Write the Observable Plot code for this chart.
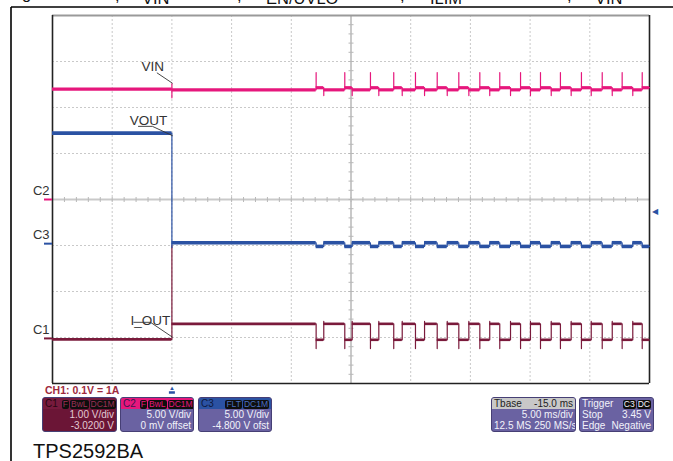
<!DOCTYPE html>
<html><head><meta charset="utf-8">
<script src="https://cdn.jsdelivr.net/npm/d3@7"></script>
<script src="https://cdn.jsdelivr.net/npm/@observablehq/plot@0.6"></script>
<style>
body{margin:0;background:#fff;}
#wrap{position:relative;width:673px;height:461px;overflow:hidden;font-family:"Liberation Sans",Arial,sans-serif;}
#chart{position:absolute;left:0;top:0;}
#chart svg{display:block;}
.deco{position:absolute;left:0;top:0;pointer-events:none;}
.box{position:absolute;top:397px;height:35px;border-radius:3px;border:1px solid #463f75;box-sizing:border-box;background:#6a62a2;color:#f2f2fa;font-size:10px;line-height:11px;overflow:hidden;}
.row{display:flex;justify-content:space-between;align-items:center;height:11px;padding:0 2px;white-space:nowrap;gap:3px;}
.badge{display:inline-block;background:#0e0e0e;border-radius:2px;padding:0 1px;margin-left:1px;font-size:8.5px;line-height:9px;height:9px;font-weight:normal;}
</style>
</head><body>
<div id="wrap">
  <div id="chart"></div>
  <svg class="deco" width="673" height="461">
    <line x1="11" y1="7" x2="673" y2="7" stroke="#000" stroke-width="1.6"/>
    <line x1="11" y1="7" x2="11" y2="461" stroke="#000" stroke-width="1.6"/>
    <g font-family="Liberation Sans, Arial, sans-serif" font-size="16.5" fill="#111">
      <text x="22" y="-1">g</text>
      <text x="115" y="1">,</text>
      <text x="142" y="3.5">VIN</text>
      <text x="237" y="1">,</text>
      <text x="266" y="3.5">EN/UVLO</text>
      <text x="400" y="1">,</text>
      <text x="430" y="3.5">ILIM</text>
      <text x="567" y="1">,</text>
      <text x="595" y="3.5">VIN</text>
    </g>
    <text x="45" y="393.5" font-family="Liberation Sans, Arial, sans-serif" font-size="10.5" font-weight="bold" fill="#9e2a3c">CH1: 0.1V = 1A</text>
    <text x="33" y="458" font-family="Liberation Sans, Arial, sans-serif" font-size="20" fill="#111">TPS2592BA</text>
  </svg>
  <div id="boxes"></div>
</div>
<script>
// ---- scope settings / axes ----
const timeDivs = [-10,-5,0,5,10,15,20,25,30,35,40];     // ms, 5 ms/div, trigger at 0
const voltDivs = [-4,-3,-2,-1,0,1,2,3,4];              // screen divisions
const channelNames  = ["C1","C2","C3"];
const channelColors = ["#7a1a3b","#e6177c","#2b52a3"];
const channelScales = [1, 5, 5];          // V/div
const channelOffsets = [-3.02, 0, -4.8];  // V
const channels = channelNames.map((name,i)=>({name, color:channelColors[i], scale:channelScales[i], offset:channelOffsets[i]}));
const [C1, C2, C3] = channels;

// ---- fault/retry cycle edges of I_OUT (ms after trigger) ----
const falls = [12.08,14.48,16.63,18.58,20.40,22.22,24.03,25.79,27.46,29.20,30.87,32.54,34.30,36.04,37.71,39.39];
const rises = [12.72,15.10,17.33,19.29,21.16,23.06,24.87,26.62,28.36,30.03,31.77,33.44,35.12,36.88,38.60];

// ---- trace levels ----
const vinLevels  = {before:11.99, step:[11.05,12.57], on:11.92, off:12.15, fall:[13.8], rise:[11.3]};   // V
const voutLevels = {before:12.02, step:[-0.41],       on:0.10,  off:-0.30, fall:[],     rise:[]};       // V
const ioutLevels = {before:-0.2,  step:[20.2,3.6],    on:3.17,  off:-0.3,  fall:[-2.2], rise:[3.7]};    // A
const ampsPerVolt = 10;   // CH1: 0.1V = 1A
const triggerTime = [0];
const triggerLevel = [3.45];

const annotations = [
  {label:"VIN",   t:-1.6,  v:2.88},
  {label:"VOUT",  t:-1.95, v:1.72},
  {label:"I_OUT", t:-1.8,  v:-2.63}
];
const leaders = [
  {id:"VIN",   t:-1.23, v:2.75}, {id:"VIN",   t:0.03, v:2.53},
  {id:"VOUT",  t:-2.80, v:1.59}, {id:"VOUT",  t:-1.63, v:1.59}, {id:"VOUT",  t:0.03, v:1.39},
  {id:"I_OUT", t:-3.19, v:-2.67},{id:"I_OUT", t:-1.79, v:-2.67},{id:"I_OUT", t:0.03, v:-2.99}
];

const boxes = [
  {left:42,  width:75, bg:"#6b1536", hdrBg:"#761a3d", hdrColor:"#2a0612", title:"C1", badges:["F","BwL","DC1M"], badgeColor:"#9a3055", text:"#e2c9d3",
   rows:[["", C1.scale.toFixed(2)+" V/div"],["","-3.0200 V"]]},
  {left:120, width:74, bg:"#6a62a2", hdrBg:"#e6177c", hdrColor:"#3b1550", title:"C2", badges:["F","BwL","DC1M"], badgeColor:"#e6177c", text:"#f2f2fa",
   rows:[["", C2.scale.toFixed(2)+" V/div"],["","0 mV offset"]]},
  {left:198, width:74, bg:"#6a62a2", hdrBg:"#2b52a3", hdrColor:"#0e1a40", title:"C3", badges:["FLT","DC1M"], badgeColor:"#4a70c0", text:"#f2f2fa",
   rows:[["", C3.scale.toFixed(2)+" V/div"],["","-4.800 V ofst"]]},
  {left:491, width:85, bg:"#6a62a2", hdrBg:"#c8c8c8", hdrColor:"#222", title:"Tbase", right:"-15.0 ms", badges:[], text:"#f2f2fa",
   rows:[["","5.00 ms/div"],["12.5 MS","250 MS/s"]]},
  {left:579, width:75, bg:"#6a62a2", hdrBg:"#6a62a2", hdrColor:"#f2f2fa", title:"Trigger", badges:["C3","DC"], badgeColor:"#f2f2fa", text:"#f2f2fa",
   rows:[["Stop", triggerLevel[0].toFixed(2)+" V"],["Edge","Negative"]]}
];

// ---- build traces ----
function build(lv, ch, name, k=1) {
  const pts = [];
  const add = (t, val) => pts.push({t, v:(val*k + ch.offset)/ch.scale, name});
  add(-10, lv.before); add(0, lv.before);
  lv.step.forEach(x => add(0, x)); add(0, lv.on);
  falls.forEach((tf,i) => {
    add(tf, lv.on); lv.fall.forEach(x => add(tf, x)); add(tf, lv.off);
    if (i < rises.length) { const tr = rises[i]; add(tr, lv.off); lv.rise.forEach(x => add(tr, x)); add(tr, lv.on); }
  });
  add(40, falls.length > rises.length ? lv.off : lv.on);
  return pts;
}
function plateaus(pts) {
  const s = [];
  for (let i=0;i<pts.length-1;i++){ const a=pts[i], b=pts[i+1]; if (a.v===b.v && b.t>a.t) s.push({t1:a.t,t2:b.t,v:a.v}); }
  return s;
}
const vin  = build(vinLevels,  C2, "VIN");
const vout = build(voutLevels, C3, "VOUT");
const iout = build(ioutLevels, C1, "I_OUT", 1/ampsPerVolt);

const pxPerMs = 597/50, pxPerDiv = 368/8;
const minorT = d3.range(-10, 40.001, 1);
const minorV = d3.range(-4, 4.001, 0.2);
const grid = "#c9c9c9";

function traceMarks(pts, color, thin, thick) {
  return [
    Plot.line(pts, {x:"t", y:"v", stroke:color, strokeWidth:thin}),
    Plot.ruleY(plateaus(pts), {y:"v", x1:"t1", x2:"t2", stroke:color, strokeWidth:thick})
  ];
}

const chart = Plot.plot({
  width:673, height:461,
  marginLeft:52, marginRight:24, marginTop:15, marginBottom:78,
  x:{domain:[-10,40], axis:null},
  y:{domain:[-4,4], axis:null},
  color:{type:"identity"},
  style:{background:"transparent", overflow:"visible", fontFamily:"Liberation Sans, Arial, sans-serif"},
  marks:[
    Plot.ruleX(timeDivs.slice(1,-1), {stroke:grid, strokeWidth:1, strokeDasharray:"2,2"}),
    Plot.ruleY(voltDivs.slice(1,-1), {stroke:grid, strokeWidth:1, strokeDasharray:"2,2"}),
    Plot.ruleX([15], {stroke:grid, strokeWidth:2}),
    Plot.ruleY([0], {stroke:grid, strokeWidth:2}),
    Plot.link(minorT, {x1:d=>d, x2:d=>d, y1:-2.5/pxPerDiv, y2:2.5/pxPerDiv, stroke:"#b8b8b8", strokeWidth:1}),
    Plot.link(minorV, {y1:d=>d, y2:d=>d, x1:15-2.5/pxPerMs, x2:15+2.5/pxPerMs, stroke:"#b8b8b8", strokeWidth:1}),
    Plot.ruleY([4], {stroke:"#9a9a9a", strokeWidth:2}),
    Plot.ruleY([-4], {stroke:"#222", strokeWidth:1.5}),
    Plot.ruleX([-10, 40], {stroke:"#222", strokeWidth:1.6}),
    ...traceMarks(iout, C1.color, 1.2, 2.6),
    ...traceMarks(vout, C3.color, 1.2, 3.6),
    ...traceMarks(vin,  C2.color, 1.2, 3.2),
    Plot.ruleY(channels, {y:d=>d.offset/d.scale, x1:-10-8/pxPerMs, x2:-10, stroke:"color", strokeWidth:2}),
    Plot.text(channels, {x:-10, y:d=>d.offset/d.scale, text:"name", dx:-3, dy:-8.5, textAnchor:"end", fontSize:13, fill:"#333"}),
    Plot.text(triggerLevel, {x:40, y:d=>(d + C3.offset)/C3.scale, text:()=>"◀", dx:5, fontSize:8, fill:C3.color}),
    Plot.text(triggerTime, {x:d=>d, y:-4, text:()=>"▲", dy:4.5, fontSize:6, fill:C3.color}),
    Plot.link(triggerTime, {x1:d=>d-3/pxPerMs, x2:d=>d+3/pxPerMs, y1:-4, y2:-4, dy:9, stroke:C3.color, strokeWidth:2.5}),
    Plot.line(leaders, {x:"t", y:"v", z:"id", stroke:"#333", strokeWidth:0.9}),
    Plot.text(annotations, {x:"t", y:"v", text:"label", fontSize:13.5, fill:"#333"})
  ]
});
document.getElementById("chart").appendChild(chart);

// ---- info boxes ----
const host = document.getElementById("boxes");
boxes.forEach(b => {
  const el = document.createElement("div");
  el.className = "box";
  el.style.left = b.left+"px"; el.style.width = b.width+"px"; el.style.background = b.bg; el.style.color = b.text;
  const badges = b.badges.map(s => `<span class="badge" style="color:${b.badgeColor}">${s}</span>`).join("");
  const right = b.right ? `<span>${b.right}</span>` : `<span>${badges}</span>`;
  el.innerHTML = `<div class="row" style="background:${b.hdrBg};color:${b.hdrColor}"><span>${b.title}</span>${right}</div>` +
    b.rows.map(r => `<div class="row"><span>${r[0]}</span><span>${r[1]}</span></div>`).join("");
  host.appendChild(el);
});
</script>
</body></html>
